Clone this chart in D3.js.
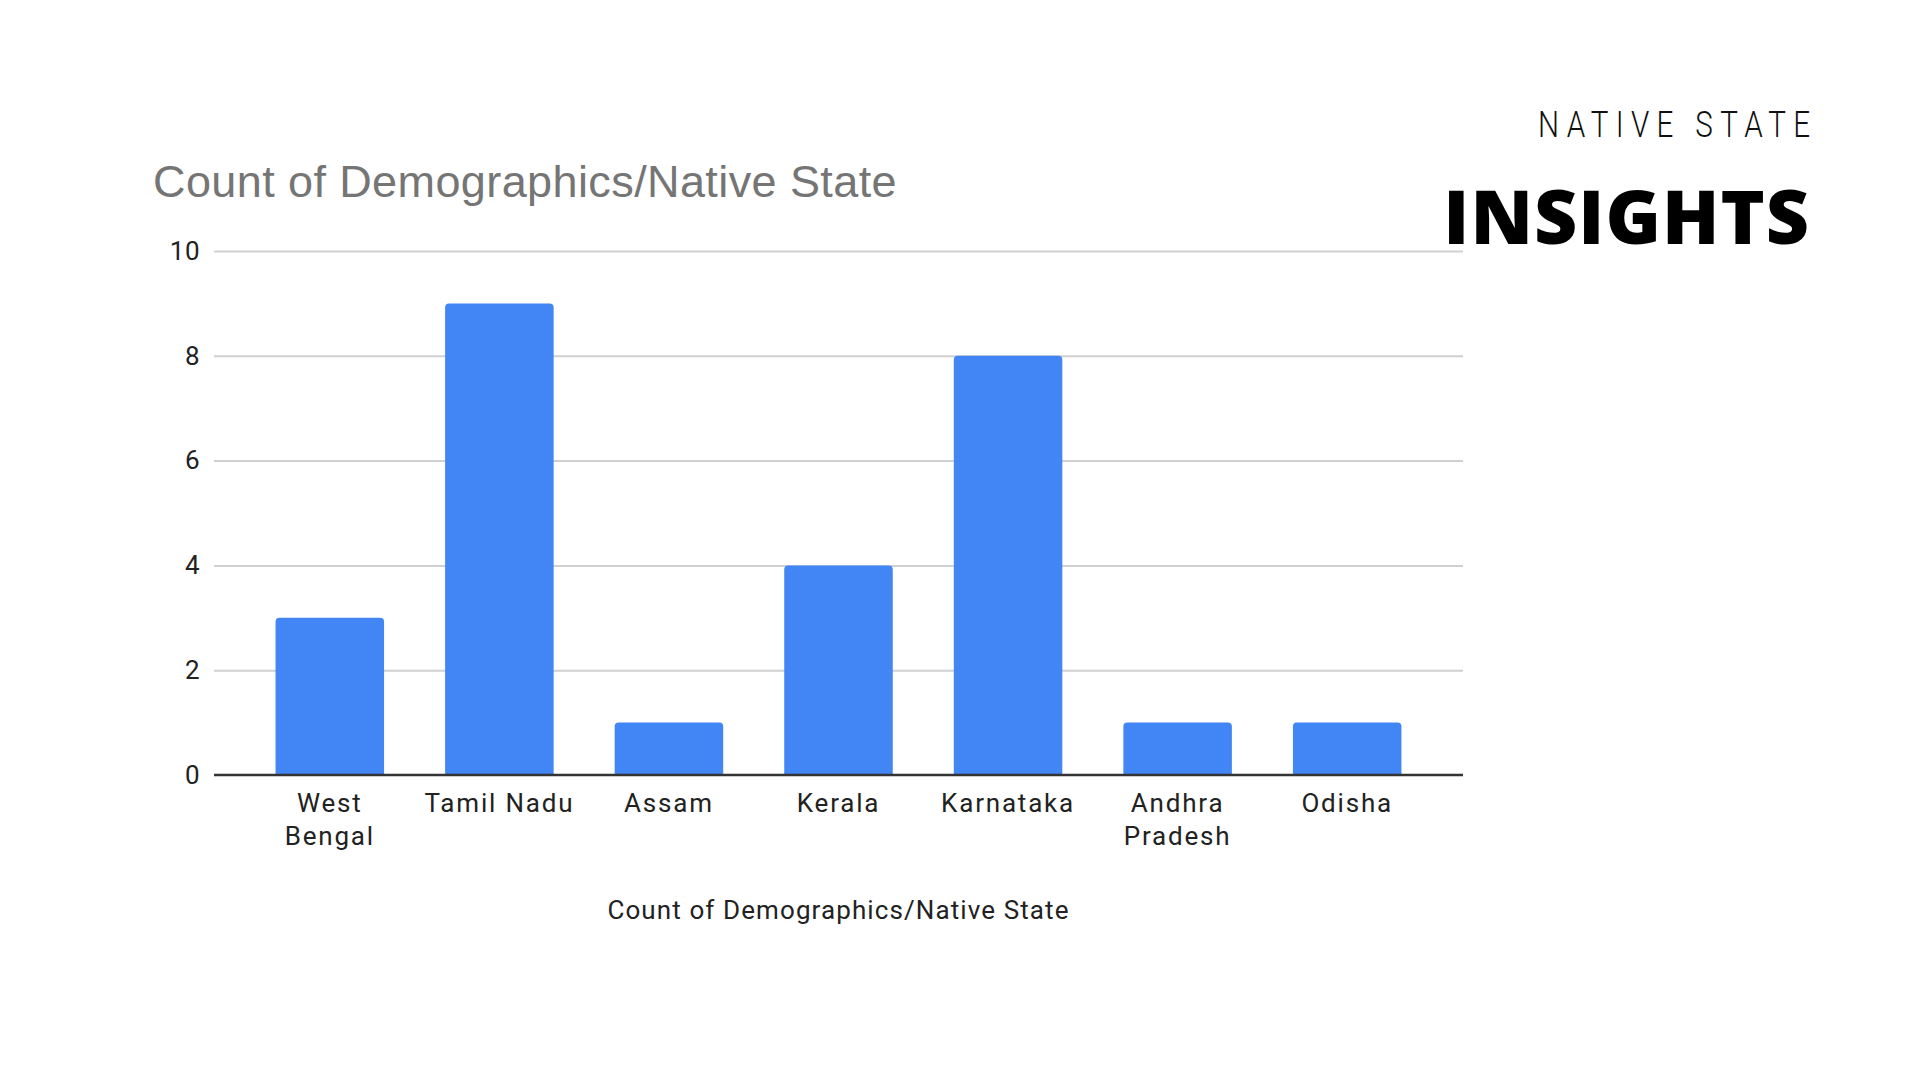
<!DOCTYPE html>
<html>
<head>
<meta charset="utf-8">
<script src="https://cdn.jsdelivr.net/npm/d3@7"></script>
<style>
  html, body { margin: 0; padding: 0; background: #ffffff; }
  svg { display: block; }
</style>
</head>
<body>
<svg id="chart" width="1920" height="1080"></svg>
<script>
// ---- data ----
const categories = ["West Bengal", "Tamil Nadu", "Assam", "Kerala", "Karnataka", "Andhra Pradesh", "Odisha"];
const counts = [3, 9, 1, 4, 8, 1, 1];
const yTicks = [0, 2, 4, 6, 8, 10];
const chartTitle = "Count of Demographics/Native State";
const xAxisTitle = "Count of Demographics/Native State";
const headingSmall = "NATIVE STATE";
const headingBig = "INSIGHTS";

// ---- layout ----
const svg = d3.select("#chart");
const plot = { left: 214, right: 1463, top: 251, bottom: 775 };

const x = d3.scaleBand()
  .domain(categories)
  .range([plot.left, plot.right])
  .paddingInner(0.36)
  .paddingOuter(0.363);

const y = d3.scaleLinear()
  .domain([0, 10])
  .range([plot.bottom, plot.top]);

// background
svg.append("rect").attr("width", 1920).attr("height", 1080).attr("fill", "#ffffff");

// gridlines
const yAxis = d3.axisLeft(y).tickValues(yTicks).tickSize(-(plot.right - plot.left)).tickPadding(14).tickFormat(d3.format("d"));
const gy = svg.append("g").attr("transform", `translate(${plot.left},0)`).call(yAxis);
gy.select(".domain").remove();
gy.selectAll(".tick line").attr("stroke", "#d0d0d0").attr("stroke-width", 2)
  .filter(d => d === 0).remove();
gy.selectAll(".tick text")
  .attr("font-family", "Roboto, 'Liberation Sans', sans-serif")
  .attr("font-size", 26)
  .attr("fill", "#222222")
  .attr("letter-spacing", "0.5px");

// bars with rounded top corners
const r = 4;
function barPath(d, i) {
  const x0 = x(d), w = x.bandwidth();
  const yt = y(counts[i]), yb = y(0);
  return `M${x0},${yb} L${x0},${yt + r} Q${x0},${yt} ${x0 + r},${yt} L${x0 + w - r},${yt} Q${x0 + w},${yt} ${x0 + w},${yt + r} L${x0 + w},${yb} Z`;
}
svg.append("g").selectAll("path.bar")
  .data(categories)
  .join("path")
  .attr("class", "bar")
  .attr("d", (d, i) => barPath(d, i))
  .attr("fill", "#4285f4");

// baseline axis
const xAxis = d3.axisBottom(x).tickSize(0).tickPadding(0);
const gx = svg.append("g").attr("transform", `translate(0,${y(0)})`).call(xAxis);
gx.select(".domain").attr("stroke", "#333333").attr("stroke-width", 2.5)
  .attr("d", `M${plot.left},0H${plot.right}`);
gx.selectAll(".tick text").remove();

// wrapped x labels
const labelFont = "Roboto, 'Liberation Sans', sans-serif";
const maxW = 156;
gx.selectAll(".tick").each(function(d) {
  const g = d3.select(this);
  const t = g.append("text")
    .attr("text-anchor", "middle")
    .attr("font-family", labelFont)
    .attr("font-size", 26)
    .attr("letter-spacing", "1.8px")
    .attr("fill", "#222222")
    .attr("y", 37);
  t.text(d);
  let lines = [d];
  if (t.node().getComputedTextLength() > maxW && d.includes(" ")) {
    lines = d.split(" ");
  }
  t.text(null);
  lines.forEach((ln, k) => {
    t.append("tspan").attr("x", 0).attr("y", 37 + k * 33).text(ln);
  });
});

// x axis title
svg.append("text")
  .attr("x", (plot.left + plot.right) / 2)
  .attr("y", 919)
  .attr("text-anchor", "middle")
  .attr("font-family", labelFont)
  .attr("font-size", 26)
  .attr("letter-spacing", "1.1px")
  .attr("fill", "#222222")
  .text(xAxisTitle);

// chart title
svg.append("text")
  .attr("x", 153)
  .attr("y", 197)
  .attr("font-family", "'Liberation Sans', Arial, sans-serif")
  .attr("font-size", 45)
  .attr("letter-spacing", "0.4px")
  .attr("fill", "#757575")
  .text(chartTitle);

// headings
const hs = svg.append("g").attr("transform", "translate(1810,137) scale(0.8,1)");
hs.append("text")
  .attr("x", 0).attr("y", 0)
  .attr("text-anchor", "end")
  .attr("font-family", "Roboto, sans-serif")
  .attr("font-weight", 300)
  .attr("font-size", 37)
  .attr("fill", "#111111")
  .attr("textLength", 272 / 0.8)
  .attr("lengthAdjust", "spacing")
  .text(headingSmall);

svg.append("text")
  .attr("x", 1810).attr("y", 244)
  .attr("text-anchor", "end")
  .attr("font-family", "'Open Sans', sans-serif")
  .attr("font-weight", 800)
  .attr("font-size", 75)
  .attr("letter-spacing", "1px")
  .attr("fill", "#000000")
  .text(headingBig);
</script>
</body>
</html>
